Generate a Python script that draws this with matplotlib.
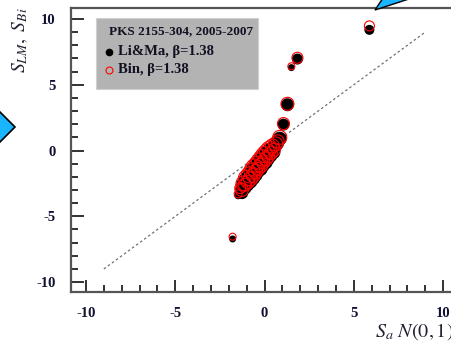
import matplotlib
matplotlib.use("Agg")
import matplotlib.pyplot as plt
from matplotlib.patches import Polygon, Rectangle
from matplotlib.lines import Line2D
from matplotlib.ticker import MultipleLocator

plt.rcParams['font.family'] = ['Liberation Serif', 'DejaVu Serif']
plt.rcParams['mathtext.fontset'] = 'stix'
plt.rcParams['axes.unicode_minus'] = False

# normal quantiles (x) and significances, Li&Ma (black) and Bin (red)
sa_q = [-1.79, -1.48, -1.36, -1.27, -1.18, -1.1, -1.02, -0.94, -0.86, -0.79,
        -0.71, -0.64, -0.57, -0.5, -0.43, -0.36, -0.29, -0.22, -0.15, -0.08,
        -0.01, 0.06, 0.13, 0.2, 0.27, 0.35, 0.43, 0.52, 0.62, 0.73,
        0.85, 1.06, 1.28, 1.5, 1.84, 5.87]
s_lm = [-6.72, -3.4, -3.0, -3.2, -2.6, -2.85, -2.25, -2.6, -2.0, -2.35,
        -1.7, -2.1, -1.45, -1.85, -1.2, -1.6, -0.95, -1.4, -0.7, -1.15,
        -0.45, -0.9, -0.2, -0.65, 0.0, -0.4, 0.2, -0.15, 0.4, 0.55,
        0.9, 1.97, 3.48, 6.3, 6.95, 9.17]
s_bin = [-6.55, -3.3, -2.85, -3.0, -2.5, -2.6, -2.1, -2.4, -1.85, -2.15,
         -1.55, -1.9, -1.3, -1.6, -1.05, -1.4, -0.8, -1.15, -0.55, -0.9,
         -0.3, -0.65, -0.05, -0.45, 0.15, -0.2, 0.35, 0.05, 0.5, 0.7,
         1.0, 2.05, 3.55, 6.4, 7.05, 9.47]
# marker diameters in pixels
size_px = [7, 8, 11, 13, 15, 13, 16, 13, 16, 14,
           16, 14, 17, 14, 16, 13, 16, 14, 16, 13,
           16, 14, 15, 13, 15, 13, 14, 13, 14, 13,
           14, 12, 13, 7, 11, 10]

legend_title = 'PKS 2155-304, 2005-2007'
label_lm = 'Li&Ma, \u03b2=1.38'
label_bin = 'Bin, \u03b2=1.38'

W, H = 452, 341
fig = plt.figure(figsize=(W / 100, H / 100), dpi=100)
ax = fig.add_axes([71 / W, 49 / H, (461 - 71) / W, (292 - 8) / H])

sizes = [(d * 0.72) ** 2 for d in size_px]
ax.plot([-9, 9], [-9, 9], ls=(0, (2, 2)), color='#707070', lw=0.9, zorder=1)
ax.scatter(sa_q, s_lm, s=sizes, c='black', edgecolors='none', zorder=2)
ax.scatter(sa_q, s_bin, s=sizes, facecolors='none', edgecolors='red',
           linewidths=0.8, zorder=3)

ax.set_xlim(-10.84, 11)
ax.set_ylim(-10.75, 10.83)
ax.xaxis.set_major_locator(MultipleLocator(5))
ax.xaxis.set_minor_locator(MultipleLocator(1))
ax.yaxis.set_major_locator(MultipleLocator(5))
ax.yaxis.set_minor_locator(MultipleLocator(1))
ax.tick_params(which='both', direction='in', color='#222222', width=1.3)
ax.tick_params(which='major', length=9, labelsize=10.5, pad=11,
               labelcolor='#111133')
ax.tick_params(which='minor', length=5)
for lab in ax.get_xticklabels() + ax.get_yticklabels():
    lab.set_fontweight('bold')
for side in ['left', 'bottom', 'top']:
    ax.spines[side].set_color('#555555')
    ax.spines[side].set_linewidth(1.6)
ax.spines['right'].set_visible(False)

# legend box
fig.patches.append(Rectangle((96 / W, 1 - 89 / H), (258 - 96) / W, (89 - 18) / H,
                             transform=fig.transFigure, facecolor='#b3b3b3',
                             edgecolor='#d0d0d0', lw=0.8, zorder=5))
fig.text(109 / W, 1 - 31 / H, legend_title, fontsize=9.5, fontweight='bold',
         va='center', color='#111122', zorder=6)
fig.add_artist(Line2D([109 / W], [1 - 52 / H], marker='o', ls='none',
                      markersize=4.5, color='black', zorder=7))
fig.add_artist(Line2D([109 / W], [1 - 70 / H], marker='o', ls='none',
                      markersize=5, markerfacecolor='none',
                      markeredgecolor='red', markeredgewidth=0.8, zorder=7))
fig.text(118 / W, 1 - 52 / H, label_lm, fontsize=10.5, fontweight='bold',
         va='center', color='#111122', zorder=6)
fig.text(118 / W, 1 - 70 / H, label_bin, fontsize=10.5, fontweight='bold',
         va='center', color='#111122', zorder=6)

# axis titles
fig.text(20 / W, 1 - 40 / H, '$S_{LM},\\ S_{Bi}$', rotation=90, fontsize=14,
         ha='center', va='center', color='#222233')
fig.text(375 / W, 1 - 332 / H, '$S_a\\ N(0,1)$', fontsize=14.5,
         ha='left', va='center', color='#222233')

# slide decorations (blue arrows)
fig.patches.append(Polygon([(15 / W, 1 - 127 / H), (-10 / W, 1 - 102 / H),
                            (-35 / W, 1 - 127 / H), (-10 / W, 1 - 152 / H)],
                           closed=True, transform=fig.transFigure,
                           facecolor='#19b5fe', edgecolor='black', lw=1.2))
fig.patches.append(Polygon([(375 / W, 1 - 10 / H), (383 / W, 1 + 2 / H),
                            (412 / W, 1 + 2 / H)],
                           closed=True, transform=fig.transFigure,
                           facecolor='#19b5fe', edgecolor='black', lw=1.0))

fig.savefig('out.png', dpi=100)
